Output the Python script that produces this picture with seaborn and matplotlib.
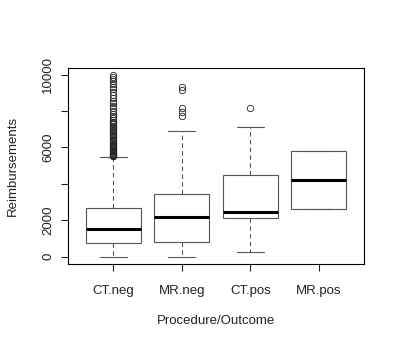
import matplotlib
matplotlib.use("Agg")
import matplotlib.pyplot as plt
import pandas as pd
import seaborn as sns

# ---- data ----
groups = ["CT.neg", "MR.neg", "CT.pos", "MR.pos"]
whisker_low = [0, 0, 275, 2625]
quartile_1 = [770, 810, 2110, 2625]
medians = [1525, 2170, 2480, 4220]
quartile_3 = [2660, 3450, 4460, 5820]
whisker_high = [5470, 6880, 7100, 5820]

outliers_ct_neg = [9960, 9880, 9760, 9620, 9480, 9330, 9200, 9050, 8900, 8720,
                   8560, 8420, 8300, 8160, 8010, 7860, 7720, 7610, 7500, 7420,
                   7350, 7270, 7200, 7130, 7050, 6980, 6900, 6830, 6760, 6700,
                   6620, 6550, 6480, 6400, 6330, 6270, 6200, 6140, 6080, 6010,
                   5950, 5890, 5830, 5780, 5730, 5680, 5640, 5600, 5570, 5540,
                   5510]
outliers_mr_neg = [7710, 7950, 8170, 9170, 9320]
outliers_ct_pos = [8170]
outliers_mr_pos = []

y_ticks = [0, 2000, 4000, 6000, 8000, 10000]
y_tick_labels = ["0", "2000", "", "6000", "", "10000"]
x_label = "Procedure/Outcome"
y_label = "Reimbursements"

outliers = [outliers_ct_neg, outliers_mr_neg, outliers_ct_pos, outliers_mr_pos]

# Expand each five-number summary into a sample whose quartiles and
# 1.5*IQR whiskers reproduce the boxes, then add the outliers.
BLOCK = 200
rows = []
for g, lo, a, m, b, hi, fl in zip(groups, whisker_low, quartile_1, medians,
                                   quartile_3, whisker_high, outliers):
    vals = [lo] + [a] * BLOCK + [m] * BLOCK + [b] * BLOCK + [hi] + list(fl)
    rows += [(g, v) for v in vals]
df = pd.DataFrame(rows, columns=["group", "value"])

# ---- style ----
sns.set_theme(style="ticks")
plt.rcParams["font.family"] = ["Liberation Sans", "DejaVu Sans"]
plt.rcParams["axes.edgecolor"] = "black"
plt.rcParams["axes.linewidth"] = 0.8

line_gray = "#555555"

fig = plt.figure(figsize=(4, 3.5), dpi=100)
fig.patch.set_facecolor("white")
ax = fig.add_axes([68 / 400, 1 - 264 / 350, 296 / 400, 196 / 350])

sns.boxplot(
    data=df, x="group", y="value", order=groups, ax=ax,
    color="white", linecolor=line_gray, linewidth=0.8, width=0.8, whis=1.5,
    saturation=1,
    flierprops=dict(marker="o", markerfacecolor="none", markeredgecolor="#222222",
                    markersize=4.6, markeredgewidth=0.6),
    medianprops=dict(color="black", linewidth=2.2, solid_capstyle="butt"),
    whiskerprops=dict(color=line_gray, linestyle=(0, (4, 3)), linewidth=0.8),
    capprops=dict(color=line_gray, linewidth=0.8),
)

ax.set_xlim(-0.66, 3.66)
ax.set_ylim(-400, 10360)
ax.set_yticks(y_ticks)
ax.set_yticklabels(y_tick_labels, rotation=90, va="center", ha="right")
ax.set_xticks(range(len(groups)))
ax.set_xticklabels(groups)

ax.tick_params(axis="both", direction="out", length=5, width=0.8,
               colors="#222222", labelsize=9.5)
ax.tick_params(axis="x", pad=10)
ax.tick_params(axis="y", pad=5)

for s in ax.spines.values():
    s.set_visible(True)
    s.set_color("black")
    s.set_linewidth(0.8)

ax.set_xlabel(x_label, fontsize=9.5, color="#222222")
ax.set_ylabel(y_label, fontsize=9.5, color="#222222")
ax.xaxis.set_label_coords(0.5, -0.262)
ax.yaxis.set_label_coords(-0.165, 0.5)

fig.savefig("out.png", dpi=100, facecolor="white")
